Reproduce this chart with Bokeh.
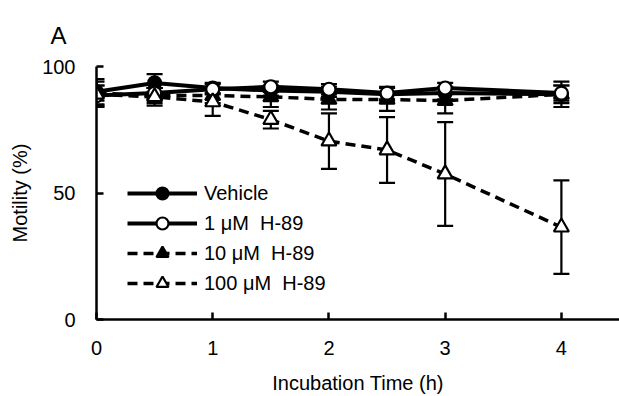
from bokeh.plotting import figure
from bokeh.models import ColumnDataSource, Whisker, TeeHead, Legend, LegendItem, FixedTicker
from bokeh.embed import file_html
from bokeh.resources import INLINE

# ---- data ----
time_h = [0, 0.5, 1, 1.5, 2, 2.5, 3, 4]

vehicle = [90, 93.5, 91.5, 90.5, 90, 89, 89.5, 89]
vehicle_err = [5, 3.5, 2, 2, 2, 2.5, 2.5, 3.5]

h89_1 = [88.5, 89.5, 91, 92, 91, 89.5, 91.5, 89.5]
h89_1_err = [4, 2, 2, 2, 2, 2.5, 2, 3]

h89_10 = [89.5, 88.5, 88.5, 88, 87, 87, 86.5, 89]
h89_10_err = [3, 3, 3, 4, 4, 4.5, 5, 5]

h89_100 = [89, 88, 86, 79, 70.5, 67, 57.5, 36.5]
h89_100_err = [5, 3.5, 5.5, 3.5, 11, 13, 20.5, 18.5]

labels = ["Vehicle", "1 \u03bcM  H-89", "10 \u03bcM  H-89", "100 \u03bcM  H-89"]
x_ticks = [0, 1, 2, 3, 4]
y_ticks = [0, 50, 100]

FONT = "Liberation Sans"

p = figure(width=619, height=396, x_range=(0, 4.5), y_range=(0, 100),
           output_backend="svg", toolbar_location=None,
           min_border_left=96, min_border_bottom=77, min_border_top=66, min_border_right=0)
p.outline_line_color = None
p.xgrid.grid_line_color = None
p.ygrid.grid_line_color = None
p.background_fill_color = "white"
p.border_fill_color = "white"

p.title.text = "A"
p.title.text_font = FONT
p.title.text_font_size = "24px"
p.title.text_font_style = "normal"
p.title.text_color = "black"
p.title.align = "left"
p.title.vertical_align = "top"
p.title.offset = -46
p.title.standoff = 31

for ax in (p.xaxis[0], p.yaxis[0]):
    ax.axis_line_width = 2.5
    ax.axis_line_color = "black"
    ax.major_tick_line_width = 2.5
    ax.major_tick_line_color = "black"
    ax.major_tick_in = 7
    ax.major_tick_out = 0
    ax.minor_tick_line_color = None
    ax.major_label_text_font = FONT
    ax.major_label_text_font_size = "20px"
    ax.major_label_text_color = "black"
    ax.axis_label_text_font = FONT
    ax.axis_label_text_font_size = "20px"
    ax.axis_label_text_font_style = "normal"
    ax.axis_label_text_color = "black"

p.xaxis.ticker = FixedTicker(ticks=x_ticks)
p.yaxis.ticker = FixedTicker(ticks=y_ticks)
p.xaxis.axis_label = "Incubation Time (h)"
p.yaxis.axis_label = "Motility (%)"
p.xaxis.major_label_standoff = 21
p.xaxis.axis_label_standoff = 14
p.yaxis.major_label_standoff = 21
p.yaxis.axis_label_standoff = 8

series = [
    (vehicle, vehicle_err, "circle", "black", None, 4),
    (h89_1, h89_1_err, "circle", "white", None, 4),
    (h89_10, h89_10_err, "triangle", "black", "10 6", 3.5),
    (h89_100, h89_100_err, "triangle", "white", "10 6", 3.5),
]

draw_order = [0, 2, 1, 3]
rend = {}
for i in draw_order:
    vals, errs, marker, fill, dash, lw = series[i]
    src = ColumnDataSource(dict(
        x=time_h, y=vals,
        upper=[v + e for v, e in zip(vals, errs)],
        lower=[v - e for v, e in zip(vals, errs)],
    ))
    w = Whisker(source=src, base="x", upper="upper", lower="lower",
                line_color="black", line_width=2.2,
                upper_head=TeeHead(size=16, line_width=2.2, line_color="black"),
                lower_head=TeeHead(size=16, line_width=2.2, line_color="black"))
    p.add_layout(w)
    kw = {}
    if dash:
        kw["line_dash"] = dash
    ln = p.line("x", "y", source=src, line_color="black", line_width=lw, **kw)
    sc = p.scatter("x", "y", source=src, marker=marker,
                   size=13 if marker == "circle" else 15,
                   fill_color=fill, line_color="black", line_width=2.2)
    rend[i] = [ln, sc]

items = [LegendItem(label=labels[i], renderers=rend[i]) for i in range(4)]

legend = Legend(items=items, location=(31, 21), glyph_width=70, glyph_height=30,
                label_height=20, spacing=0, padding=0, margin=0,
                label_standoff=7, border_line_color=None, background_fill_alpha=0,
                label_text_font=FONT, label_text_font_size="20px",
                label_text_color="black")
p.add_layout(legend)

open("out.html", "w").write(file_html(p, INLINE))
